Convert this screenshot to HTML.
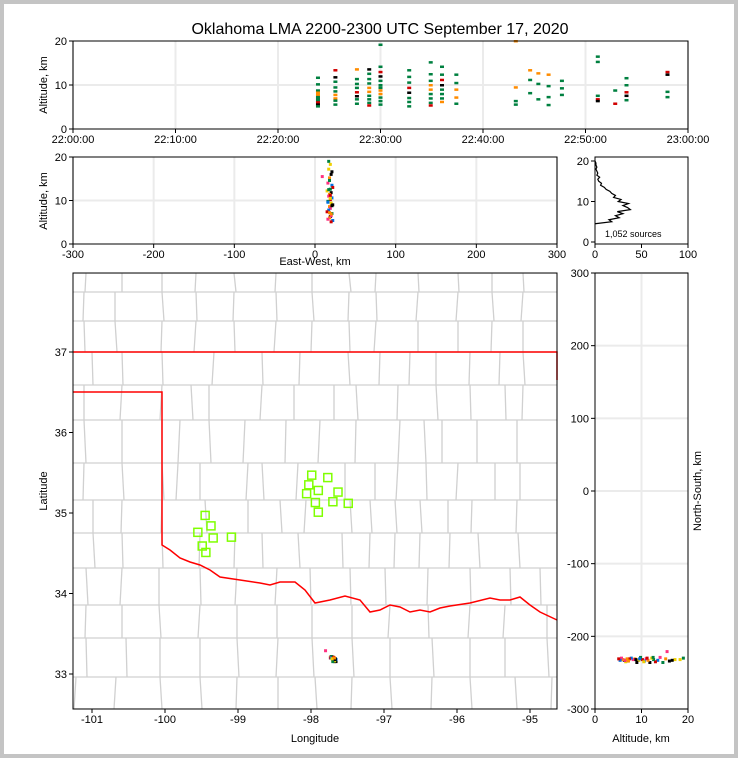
<!DOCTYPE html>
<html><head><meta charset="utf-8">
<style>
html,body{margin:0;padding:0;background:#c4c4c4;}
#wrap{position:absolute;left:4px;top:4px;width:730px;height:750px;background:#fff;}
svg{position:absolute;left:0;top:0;font-family:"Liberation Sans",sans-serif;}
</style></head>
<body>
<div id="wrap"></div>
<svg id="fig" width="738" height="758"></svg>
<script>
// ---- data ----
const timeCols = [23.9,25.6,27.7,28.9,30.0,32.8,34.9,36.0,37.4,43.2,44.6,45.4,46.4,47.7,51.2,52.9,54.0,58.0];
const timeAlts = [
 [11.7,10.2,8.8,8.3,7.8,7.3,6.9,6.5,6.1,5.6,5.2],
 [13.4,11.8,10.8,9.5,8.6,7.8,7,6.5,5.6],
 [13.6,11.4,10.3,9.4,8.4,7.5,6.8,5.8],
 [13.6,12.6,11.4,10.4,9.4,8.5,7.6,6.8,6,5.4],
 [19.2,14.2,13,12,11,10,9.4,8.8,8,7.2,6.4,5.6],
 [13.4,11.9,10.6,9.4,8.3,7.1,6.2,5.2],
 [15.2,12.5,11,10,9,8,7,6,5.4],
 [14.2,12.4,11.2,10,9,8,7,6.2],
 [12.4,10.5,9,7.2,5.8],
 [20,9.5,6.4,5.6],
 [13.4,11.2,8.2],
 [12.7,10.3,6.8],
 [12.4,9.8,7.3,5.5],
 [11,9.3,7.8],
 [16.5,15.3,7.6,6.8,6.4],
 [8.8,5.8],
 [11.6,10,8.4,7.6,6.6],
 [13,12.4,8.5,7.3]];
const planEW  = [17,19,20,18,16,21,22,19,15,20,18,17,21,19,16,20,22,18,19,17,15,21,20,19,18,16,22,20,17,19,21,18,20,16,19,18,17,21,20,9];
const planNS  = [-230,-232,-234,-231,-229,-233,-235,-232,-230,-236,-233,-231,-234,-232,-229,-233,-236,-231,-232,-230,-231,-234,-235,-233,-232,-230,-233,-231,-229,-235,-232,-234,-233,-231,-230,-236,-232,-233,-231,-221];
const planAlt = [19,18.3,16,15.2,14,13.5,13,12.6,12.2,11.8,11.4,11,10.6,10.2,9.8,9.4,9,8.6,8.2,7.8,7.4,7,6.6,6.3,6,5.7,5.4,5.1,12.5,10.5,8.8,7.2,6.5,9.6,11.2,14.6,17.2,16.6,6.9,15.5];
const histAlt = [4.5,5,5.5,6,6.5,7,7.5,8,8.5,9,9.5,10,10.5,11,11.5,12,12.5,13,13.5,14,14.5,15,15.5,16,16.5,17,17.5,18,18.5,19,19.5,20];
const histCnt = [0,18,15,26,22,30,24,38,35,30,36,25,28,20,22,18,16,12,10,6,7,4,3,5,2,3,2,1,2,1,1,0];
const stationLon = [-99.45,-99.37,-99.55,-99.34,-99.49,-99.44,-99.09,-97.99,-97.77,-98.03,-97.9,-98.06,-97.63,-97.94,-97.7,-97.49,-97.9];
const stationLat = [34.97,34.84,34.76,34.69,34.59,34.51,34.7,35.47,35.44,35.35,35.28,35.24,35.26,35.13,35.14,35.12,35.01];
const xTimeTicks = ["22:00:00","22:10:00","22:20:00","22:30:00","22:40:00","22:50:00","23:00:00"];
const ewTicks = [-300,-200,-100,0,100,200,300];
const lonTicks = [-101,-100,-99,-98,-97,-96,-95];
const latTicks = [33,34,35,36,37];
const nsTicks = [-300,-200,-100,0,100,200,300];
const palette = ['#008040','#ff8c00','#d00000','#000000','#0070e0','#f0d000','#ff3080'];
const topColorOrder = [0,0,1,0,2,0,0,3,0,1];

// ---- helpers ----
const S = document.getElementById('fig'), NS='http://www.w3.org/2000/svg';
function mk(tag, attrs, parent){const e=document.createElementNS(NS,tag);for(const k in attrs)e.setAttribute(k,attrs[k]);(parent||S).appendChild(e);return e;}
function txt(x,y,s,size,anchor,rot,name){const t=mk('text',{x:x,y:y,'font-size':size,'text-anchor':anchor||'middle',fill:'#000'});if(rot)t.setAttribute('transform','rotate('+rot+' '+x+' '+y+')');t.textContent=s;


return t;}
function lin(a,b,c,d){return v=>c+(v-a)/(b-a)*(d-c);}

// title
txt(380,34,'Oklahoma LMA 2200-2300 UTC September 17, 2020',16,'middle',0,'chart-title');

// ---- panel 1: time-height ----
const tx=lin(0,60,73,688), ty=lin(0,20,129,41);
const g1=mk('g',{});


for(let i=0;i<=6;i++) mk('line',{x1:tx(i*10),x2:tx(i*10),y1:41,y2:129,stroke:'#ebebeb','stroke-width':2},g1);
mk('line',{x1:73,x2:688,y1:ty(10),y2:ty(10),stroke:'#ebebeb','stroke-width':2},g1);
let k=0;
timeCols.forEach((t,ci)=>{timeAlts[ci].forEach(a=>{const r=mk('rect',{x:tx(t)-2,y:ty(a)-1,width:4,height:2.5,fill:palette[topColorOrder[(k*3+ci)%10]]},g1);

k++;});});
mk('rect',{x:73,y:41,width:615,height:88,fill:'none',stroke:'#000','stroke-width':1},g1);
xTimeTicks.forEach((s,i)=>{mk('line',{x1:tx(i*10),x2:tx(i*10),y1:129,y2:133,stroke:'#000'},g1);txt(tx(i*10),143,s,11,'middle',0,'x-tick-time');});
[0,10,20].forEach(v=>{mk('line',{x1:69,x2:73,y1:ty(v),y2:ty(v),stroke:'#000'},g1);txt(67,ty(v)+4,v,11,'end',0,'y-tick');});
txt(47,85,'Altitude, km',11,'middle',-90,'y-axis-title-top');

// ---- panel 2: EW-alt ----
const ex=lin(-300,300,73,557), ey=lin(0,20,244,157);
const g2=mk('g',{});


ewTicks.forEach(v=>mk('line',{x1:ex(v),x2:ex(v),y1:157,y2:244,stroke:'#ebebeb','stroke-width':2},g2));
mk('line',{x1:73,x2:557,y1:ey(10),y2:ey(10),stroke:'#ebebeb','stroke-width':2},g2);
planEW.forEach((e,i)=>{const r=mk('rect',{x:ex(e)-1.5,y:ey(planAlt[i])-1.5,width:3,height:3,fill:palette[(i*5)%7]},g2);

});
mk('rect',{x:73,y:157,width:484,height:87,fill:'none',stroke:'#000'},g2);
ewTicks.forEach(v=>{mk('line',{x1:ex(v),x2:ex(v),y1:244,y2:248,stroke:'#000'},g2);txt(ex(v),258,v,11,'middle',0,'x-tick-ew');});
[0,10,20].forEach(v=>{mk('line',{x1:69,x2:73,y1:ey(v),y2:ey(v),stroke:'#000'},g2);txt(67,ey(v)+4,v,11,'end',0,'y-tick');});
txt(47,201,'Altitude, km',11,'middle',-90,'y-axis-title-mid');
txt(315,265,'East-West, km',11,'middle',0,'x-axis-title-ew');

// ---- panel 3: histogram ----
const hx=lin(0,100,595,688), hy=lin(0,20,242,161);
const g3=mk('g',{});


let d='';histAlt.forEach((a,i)=>{d+=(i?'L':'M')+hx(histCnt[i])+','+hy(a);});
const hp=mk('path',{d:d,fill:'none',stroke:'#000','stroke-width':1.2},g3);


mk('rect',{x:595,y:157,width:93,height:87,fill:'none',stroke:'#000'},g3);
[0,50,100].forEach(v=>{mk('line',{x1:hx(v),x2:hx(v),y1:244,y2:248,stroke:'#000'},g3);txt(hx(v),258,v,11,'middle',0,'x-tick-count');});
[0,10,20].forEach(v=>{mk('line',{x1:591,x2:595,y1:hy(v),y2:hy(v),stroke:'#000'},g3);txt(589,hy(v)+4,v,11,'end',0,'y-tick');});
txt(605,237,'1,052 sources',9,'start',0,'source-count');

// ---- panel 4: map ----
const mx=lin(-101,-95,92,530), my=lin(37,33,352,674);
const g4=mk('g',{});


mk('clipPath',{id:'mc'},g4);mk('rect',{x:73,y:273,width:484,height:436},document.getElementById('mc'));
const cg=mk('g',{'clip-path':'url(#mc)',stroke:'#d0d0d0','stroke-width':1.3,fill:'none'},g4);


const rows=[273,292,321,352,385,420,463,500,533,568,605,638,677,709];
const cols=[[86,122,162,196,234,276,312,349,376,418,458,492,523],[84,115,162,196,234,276,312,349,376,418,458,492,523],[84,115,162,196,234,276,312,349,376,418,458,492,523],
[92,122,162,214,262,300,348,380,410,436,470,500,523],[84,122,162,191,209,262,294,334,356,398,436,470,505,523],[84,122,162,180,209,245,286,320,356,400,424,442,477,517],
[84,122,162,178,200,248,262,298,345,375,398,426,458,495,520],[93,122,162,205,248,280,306,350,370,395,420,448,472,517],[93,122,162,200,235,262,298,342,370,395,420,450,478,518],
[86,122,159,200,237,277,310,350,385,428,470,510,540],[86,122,159,200,237,277,312,352,390,428,470,505,547],[86,126,160,200,237,278,312,352,390,432,470,505,547],[76,116,160,200,237,278,315,352,390,432,470,515,552]];
rows.forEach(y=>mk('line',{x1:73,x2:557,y1:y,y2:y},cg));
cols.forEach((cs,i)=>cs.forEach(x=>mk('line',{x1:x,x2:x+((i*7+x)%5-2),y1:rows[i],y2:rows[i+1]},cg)));
const bord=mk('path',{d:'M73,352L557,352L557,380M73,392L162,392L162,545L170,550L180,558L190,562L200,565L210,570L220,577L240,580L260,583L270,585L280,582L295,582L305,590L315,603L330,600L345,596L360,600L370,612L380,610L390,605L400,607L410,612L420,610L430,612L440,608L450,606L470,603L490,598L500,600L510,600L520,597L530,605L540,612L557,620',fill:'none',stroke:'#f00','stroke-width':1.5},g4);


stationLon.forEach((lo,i)=>{const r=mk('rect',{x:mx(lo)-4,y:my(stationLat[i])-4,width:8,height:8,fill:'none',stroke:'#7fff00','stroke-width':1.5},g4);

});
const lon0=-97.9, lat0=35.28;
planEW.forEach((e,i)=>{const r=mk('rect',{x:mx(lon0+e/90.6)-1.5,y:my(lat0+planNS[i]/111)-1.5,width:3,height:3,fill:palette[(i*5)%7]},g4);

});
mk('rect',{x:73,y:273,width:484,height:436,fill:'none',stroke:'#000'},g4);
lonTicks.forEach(v=>{mk('line',{x1:mx(v),x2:mx(v),y1:709,y2:713,stroke:'#000'},g4);txt(mx(v),723,v,11,'middle',0,'x-tick-lon');});
latTicks.forEach(v=>{mk('line',{x1:69,x2:73,y1:my(v),y2:my(v),stroke:'#000'},g4);txt(67,my(v)+4,v,11,'end',0,'y-tick-lat');});
txt(315,742,'Longitude',11,'middle',0,'x-axis-title-lon');
txt(47,491,'Latitude',11,'middle',-90,'y-axis-title-lat');

// ---- panel 5: alt-NS ----
const ax=lin(0,20,595,688), ay=lin(-300,300,709,273);
const g5=mk('g',{});


mk('line',{x1:ax(10),x2:ax(10),y1:273,y2:709,stroke:'#ebebeb','stroke-width':2},g5);
nsTicks.forEach(v=>mk('line',{x1:595,x2:688,y1:ay(v),y2:ay(v),stroke:'#ebebeb','stroke-width':2},g5));
planAlt.forEach((a,i)=>{const r=mk('rect',{x:ax(a)-1.5,y:ay(planNS[i])-1.5,width:3,height:3,fill:palette[(i*5)%7]},g5);

});
mk('rect',{x:595,y:273,width:93,height:436,fill:'none',stroke:'#000'},g5);
[0,10,20].forEach(v=>{mk('line',{x1:ax(v),x2:ax(v),y1:709,y2:713,stroke:'#000'},g5);txt(ax(v),723,v,11,'middle',0,'x-tick-alt');});
nsTicks.forEach(v=>{mk('line',{x1:591,x2:595,y1:ay(v),y2:ay(v),stroke:'#000'},g5);txt(589,ay(v)+4,v,11,'end',0,'y-tick-ns');});
txt(641,742,'Altitude, km',11,'middle',0,'x-axis-title-alt');
txt(701,491,'North-South, km',11,'middle',-90,'y-axis-title-ns');
</script>
</body></html>
